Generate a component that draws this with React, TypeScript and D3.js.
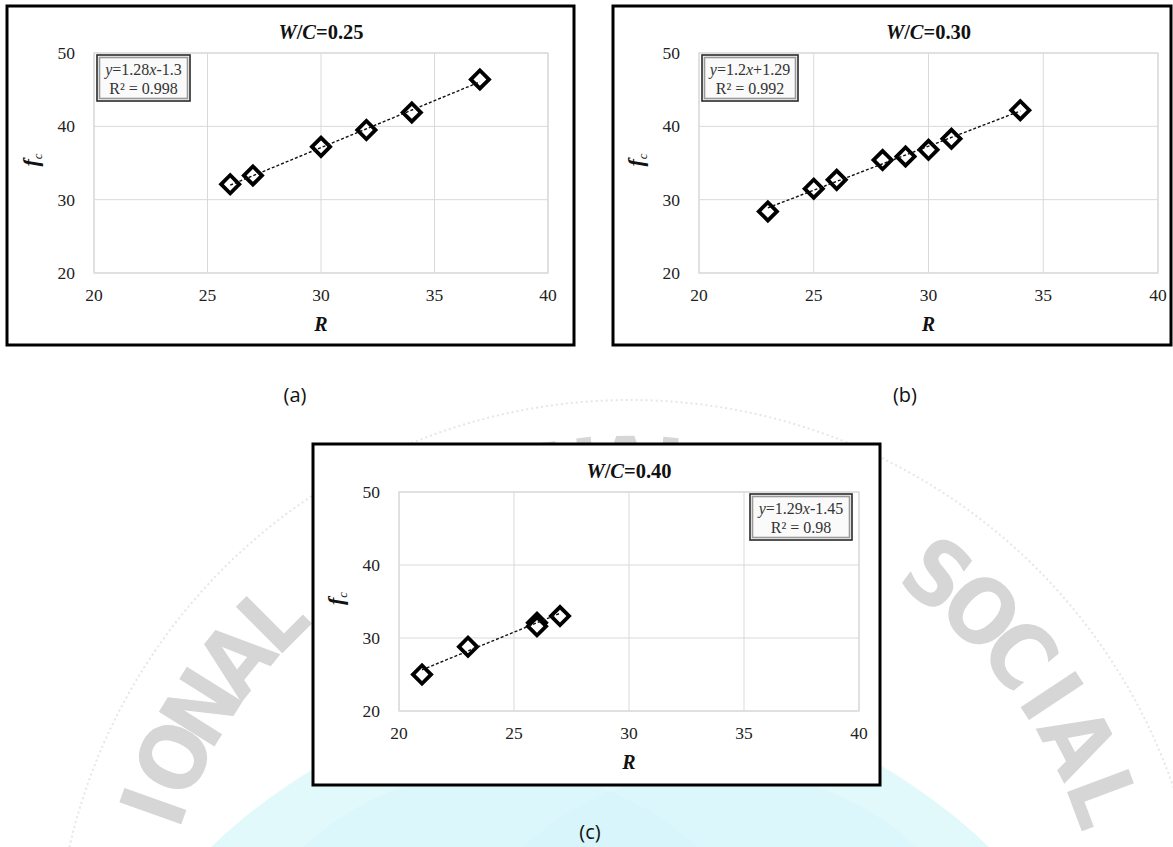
import React from "react";
import * as d3 from "d3";

// ---------- data ----------
const panelLabels = ["(a)", "(b)", "(c)"];
const wcValues = ["0.25", "0.30", "0.40"];
const rA = [26, 27, 30, 32, 34, 37];
const fcA = [32.1, 33.3, 37.2, 39.5, 41.9, 46.4];
const rB = [23, 25, 26, 28, 29, 30, 31, 34];
const fcB = [28.4, 31.5, 32.7, 35.4, 35.9, 36.8, 38.3, 42.2];
const rC = [21, 23, 26, 26, 27];
const fcC = [25.0, 28.8, 32.1, 31.6, 33.0];
const slopes = [1.28, 1.2, 1.29];
const intercepts = [-1.3, 1.29, -1.45];
const slopeLabels = ["1.28", "1.2", "1.29"];
const interceptLabels = ["-1.3", "+1.29", "-1.45"];
const r2Values = ["0.998", "0.992", "0.98"];
const xTicks = [20, 25, 30, 35, 40];
const yTicks = [20, 30, 40, 50];
const xDomain = [20, 40];
const yDomain = [20, 50];

const seriesR = [rA, rB, rC];
const seriesF = [fcA, fcB, fcC];

// watermark letters and their angles (degrees) along the arc
const wmLetters = ["I", "O", "N", "A", "L", "J", "O", "U", "R", "N", "A", "L", "O", "F", "S", "O", "C", "I", "A", "L"];
const wmAngles = [199.5, 205.5, 212, 218.8, 225, 237.5, 243.5, 250, 256.5, 263, 269.5, 275.5, 287, 294, 307.5, 314, 320.5, 326.5, 332.5, 339.5];

// ---------- layout ----------
const W = 1173;
const H = 847;
const layouts = [
  { x0: 7, y0: 6, x1: 574, y1: 345, pl: 94, pr: 548, pt: 53, pb: 273, box: [97, 55, 190, 101], lab: [295, 395] },
  { x0: 613, y0: 6, x1: 1171, y1: 345, pl: 699, pr: 1158, pt: 53, pb: 273, box: [702, 55, 798, 101], lab: [905, 395] },
  { x0: 313, y0: 444, x1: 880, y1: 785, pl: 399, pr: 859, pt: 492, pb: 711, box: [750, 494, 852, 540], lab: [590, 832] },
];

const SERIF = "'Liberation Serif', 'Times New Roman', serif";

function Panel({ i }: { i: number }) {
  const L = layouts[i];
  const x = d3.scaleLinear().domain(xDomain).range([L.pl, L.pr]);
  const y = d3.scaleLinear().domain(yDomain).range([L.pb, L.pt]);
  const rs = seriesR[i];
  const fs = seriesF[i];
  const xmin = d3.min(rs) as number;
  const xmax = d3.max(rs) as number;
  const trend = [xmin, xmax].map((r) => [r, slopes[i] * r + intercepts[i]] as [number, number]);
  const line = d3
    .line<[number, number]>()
    .x((d) => x(d[0]))
    .y((d) => y(d[1]));
  const sym = d3.symbol(d3.symbolSquare, 165)();
  const [bx0, by0, bx1, by1] = L.box;
  const bcx = (bx0 + bx1) / 2;
  const pcx = (L.pl + L.pr) / 2;
  const pcy = (L.pt + L.pb) / 2;
  const grid = "#d9d9d9";
  return (
    <g>
      <rect x={L.x0} y={L.y0} width={L.x1 - L.x0} height={L.y1 - L.y0} fill="#fff" stroke="#000" strokeWidth={3} />
      {xTicks.map((t) => (
        <line key={"gx" + t} x1={x(t)} x2={x(t)} y1={L.pt} y2={L.pb} stroke={grid} strokeWidth={1} />
      ))}
      {yTicks.map((t) => (
        <line key={"gy" + t} x1={L.pl} x2={L.pr} y1={y(t)} y2={y(t)} stroke={grid} strokeWidth={1} />
      ))}
      <rect x={L.pl} y={L.pt} width={L.pr - L.pl} height={L.pb - L.pt} fill="none" stroke={grid} strokeWidth={1.2} />
      <g fontFamily={SERIF} fontSize={17.5} fill="#222">
        {xTicks.map((t) => (
          <text key={"tx" + t} x={x(t)} y={L.pb + 28} textAnchor="middle">
            {t}
          </text>
        ))}
        {yTicks.map((t) => (
          <text key={"ty" + t} x={L.pl - 19} y={y(t) + 6} textAnchor="end">
            {t}
          </text>
        ))}
      </g>
      <text x={pcx} y={L.pt - 14} textAnchor="middle" fontFamily={SERIF} fontSize={20.5} fontWeight="bold" fill="#111">
        <tspan fontStyle="italic">W</tspan>
        <tspan>/</tspan>
        <tspan fontStyle="italic">C</tspan>
        <tspan>{"=" + wcValues[i]}</tspan>
      </text>
      <text x={pcx} y={L.pb + 58} textAnchor="middle" fontFamily={SERIF} fontSize={20} fontWeight="bold" fontStyle="italic" fill="#111">
        R
      </text>
      <text
        transform={`translate(${L.pl - 56},${pcy - 3}) rotate(-90)`}
        textAnchor="middle"
        fontFamily={SERIF}
        fontSize={22}
        fontWeight="bold"
        fontStyle="italic"
        fill="#111"
      >
        f
        <tspan fontSize={13} dy={4} fontWeight="normal">
          c
        </tspan>
      </text>
      {rs.map((r, k) => (
        <path
          key={"m" + k}
          d={sym as string}
          transform={`translate(${x(r)},${y(fs[k])}) rotate(45)`}
          fill="#fff"
          stroke="#000"
          strokeWidth={3.8}
        />
      ))}
      <path d={line(trend) as string} fill="none" stroke="#111" strokeWidth={1.4} strokeDasharray="3,2" />
      <rect x={bx0} y={by0} width={bx1 - bx0} height={by1 - by0} fill="#fafafa" stroke="#2a2a2a" strokeWidth={1.6} />
      <rect x={bx0 + 2.5} y={by0 + 2.5} width={bx1 - bx0 - 5} height={by1 - by0 - 5} fill="none" stroke="#9a9a9a" strokeWidth={1.6} />
      <g fontFamily={SERIF} fontSize={16} fill="#333">
        <text x={bcx} y={by0 + 20} textAnchor="middle">
          <tspan fontStyle="italic">y</tspan>
          <tspan>{"=" + slopeLabels[i]}</tspan>
          <tspan fontStyle="italic">x</tspan>
          <tspan>{interceptLabels[i]}</tspan>
        </text>
        <text x={bcx} y={by0 + 39} textAnchor="middle">
          {"R² = " + r2Values[i]}
        </text>
      </g>
      <text
        x={L.lab[0]}
        y={L.lab[1] + 7}
        textAnchor="middle"
        fontFamily="'Open Sans', 'Liberation Sans', sans-serif"
        fontSize={20}
        fill="#111"
      >
        {panelLabels[i]}
      </text>
    </g>
  );
}

function Watermark() {
  const cx = 630;
  const cy = 975;
  const rm = 505;
  const ro = 575;
  const pc = layouts[2];
  const wmFont = "'Liberation Sans Narrow', 'DejaVu Sans Condensed', 'Liberation Sans', sans-serif";
  const letters = wmLetters
    .map((ch, k) => {
      const a = (wmAngles[k] * Math.PI) / 180;
      return { ch, k, deg: wmAngles[k], px: cx + rm * Math.cos(a), py: cy + rm * Math.sin(a) };
    })
    .filter((l) => {
      const m = 38;
      const hidden = l.px - m > pc.x0 && l.px + m < pc.x1 && l.py - m > pc.y0 && l.py + m < pc.y1;
      const off = l.py - m > H;
      return !hidden && !off;
    });
  return (
    <g>
      <circle cx={600} cy={1250} r={560} fill="#e2f9fc" />
      <circle cx={500} cy={1060} r={290} fill="#cdf2f8" opacity={0.3} />
      <circle cx={720} cy={1060} r={290} fill="#cdf2f8" opacity={0.3} />
      <circle cx={cx} cy={cy} r={ro} fill="none" stroke="#e6e6e6" strokeWidth={2} strokeDasharray="2,3" />
      {letters.map((l) => (
        <text
          key={"wm" + l.k}
          transform={`translate(${l.px},${l.py}) rotate(${l.deg + 90})`}
          textAnchor="middle"
          dominantBaseline="central"
          fontFamily={wmFont}
          fontWeight="bold"
          fontSize={90}
          fill="#d6d6d6"
        >
          {l.ch}
        </text>
      ))}
    </g>
  );
}

export default function App() {
  return (
    <svg
      width={W}
      height={H}
      viewBox={`0 0 ${W} ${H}`}
      style={{ position: "absolute", left: 0, top: 0, display: "block", background: "#fff" }}
    >
      <rect x={0} y={0} width={W} height={H} fill="#fff" />
      <Watermark />
      {[0, 1, 2].map((i) => (
        <Panel key={i} i={i} />
      ))}
    </svg>
  );
}
